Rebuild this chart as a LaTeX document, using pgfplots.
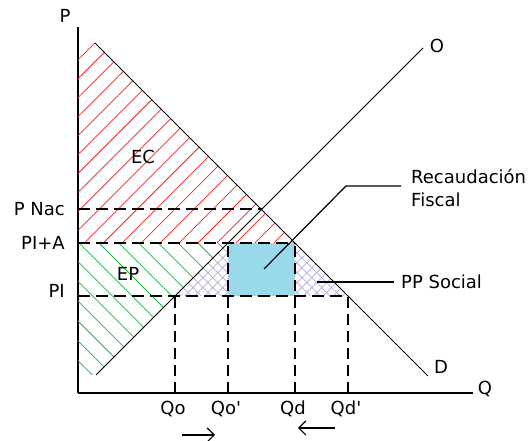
\documentclass[border=0pt]{standalone}
\usepackage{fontspec}
\setmainfont{DejaVu Sans}
\usepackage{pgfplots}
\pgfplotsset{compat=1.18}
\usetikzlibrary{patterns.meta,arrows.meta}
\definecolor{rfill}{RGB}{153,217,234}
\definecolor{hred}{RGB}{255,30,30}
\definecolor{hgreen}{RGB}{30,180,70}
\definecolor{hpurple}{RGB}{180,168,222}
\newcommand{\pr}{\textquotesingle}
\begin{document}
\begin{tikzpicture}[font=\fontsize{18}{22}\selectfont]
\begin{axis}[
  x=1pt, y=1pt,
  xmin=0, xmax=395, ymin=0, ymax=366,
  axis lines=left,
  axis line style={-, line width=1.6pt},
  major tick length=0pt,
  xtick={97,150,217,270},
  xticklabels={Qo,Qo\pr,Qd,Qd\pr},
  ytick={97,150,184},
  yticklabels={\raisebox{10pt}{PI},PI+A,P Nac},
  xticklabel style={inner sep=0pt, anchor=north, yshift=-8pt, xshift=-2pt},
  yticklabel style={inner sep=0pt, anchor=east, xshift=-13pt},
  clip=false,
]
% Excedente del consumidor (rojo)
\addplot[draw=none, pattern={Lines[angle=45,distance=13.4pt,line width=0.75pt]}, pattern color=hred]
  coordinates {(0,150) (0,350) (17,350) (217,150)} -- cycle;
% Excedente del productor (verde)
\addplot[draw=none, pattern={Lines[angle=-45,distance=14pt,line width=0.75pt]}, pattern color=hgreen]
  coordinates {(0,150) (150,150) (18,18) (0,18)} -- cycle;
% Perdida social (cuadriculado)
\addplot[draw=none, pattern={Lines[angle=45,distance=7pt,line width=0.7pt]}, pattern color=hpurple]
  coordinates {(97,97) (150,150) (150,97)} -- cycle;
\addplot[draw=none, pattern={Lines[angle=-45,distance=7pt,line width=0.7pt]}, pattern color=hpurple]
  coordinates {(97,97) (150,150) (150,97)} -- cycle;
\addplot[draw=none, pattern={Lines[angle=45,distance=7pt,line width=0.7pt]}, pattern color=hpurple]
  coordinates {(217,150) (217,97) (270,97)} -- cycle;
\addplot[draw=none, pattern={Lines[angle=-45,distance=7pt,line width=0.7pt]}, pattern color=hpurple]
  coordinates {(217,150) (217,97) (270,97)} -- cycle;
% Recaudacion fiscal
\addplot[draw=none, fill=rfill] coordinates {(150,97) (217,97) (217,150) (150,150)} -- cycle;
% Lineas discontinuas
\addplot[black, line width=1.6pt, dash pattern=on 12pt off 6pt] coordinates {(0,184) (184,184)};
\addplot[black, line width=1.6pt, dash pattern=on 12pt off 6pt] coordinates {(0,150) (217,150)};
\addplot[black, line width=1.6pt, dash pattern=on 12pt off 6pt] coordinates {(0,97) (270,97)};
\addplot[black, line width=1.6pt, dash pattern=on 11pt off 6pt] coordinates {(97,0) (97,97)};
\addplot[black, line width=1.6pt, dash pattern=on 11pt off 6pt] coordinates {(150,0) (150,150)};
\addplot[black, line width=1.6pt, dash pattern=on 11pt off 6pt] coordinates {(217,0) (217,150)};
\addplot[black, line width=1.6pt, dash pattern=on 11pt off 6pt] coordinates {(270,0) (270,97)};
% Oferta y demanda
\addplot[black, line width=0.9pt] coordinates {(18,18) (345,345)};
\addplot[black, line width=0.9pt] coordinates {(17,350) (350,17)};
% Lineas guia
\addplot[black, line width=1.2pt] coordinates {(186,124) (268,207) (323,207)};
\addplot[black, line width=1.2pt] coordinates {(239,111) (316,111)};
% Flechas
\addplot[black, line width=1.2pt, -{Straight Barb[length=7pt,width=14pt]}] coordinates {(104,-42) (137,-42)};
\addplot[black, line width=1.2pt, -{Straight Barb[length=7pt,width=14pt]}] coordinates {(257,-35) (220,-35)};
% Textos
\node at (axis cs:65,236) {EC};
\node at (axis cs:50,119) {EP};
\node at (axis cs:-13,377) {P};
\node at (axis cs:407,4) {Q};
\node at (axis cs:359,347) {O};
\node at (axis cs:363,26) {D};
\node[anchor=west, inner sep=0pt] at (axis cs:333,217) {Recaudación};
\node[anchor=west, inner sep=0pt] at (axis cs:333,193) {Fiscal};
\node[anchor=west, inner sep=0pt] at (axis cs:323,111) {PP Social};
\coordinate (bbA) at (axis cs:-78,-48);
\coordinate (bbB) at (axis cs:453,393);
\end{axis}
\pgfresetboundingbox
\useasboundingbox (bbA) rectangle (bbB);
\end{tikzpicture}
\end{document}
